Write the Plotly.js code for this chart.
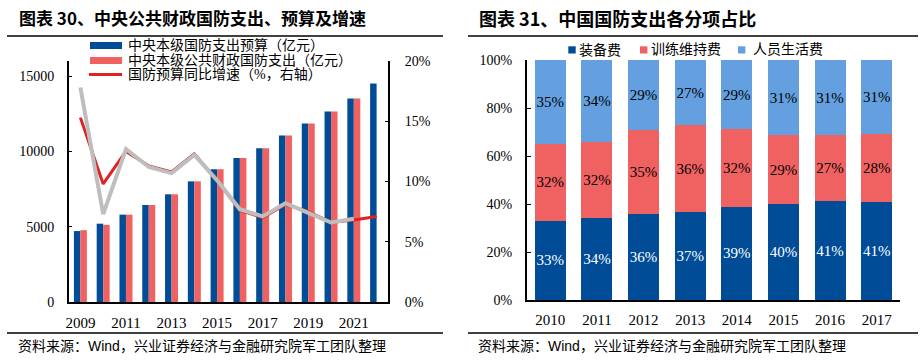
<!DOCTYPE html>
<html><head><meta charset="utf-8">
<script src="https://cdn.plot.ly/plotly-3.0.1.min.js"></script>
<style>
html,body{margin:0;padding:0;background:#fff;}
#wrap{position:relative;width:922px;height:361px;overflow:hidden;}
#c1{position:absolute;left:0;top:0;width:461px;height:361px;}
#c2{position:absolute;left:461px;top:0;width:461px;height:361px;}
</style></head><body>
<div id="wrap"><div id="c1"></div><div id="c2"></div></div>
<script>
// ---------- Data: chart 1 ----------
const years = [2009,2010,2011,2012,2013,2014,2015,2016,2017,2018,2019,2020,2021,2022];
const xTickYears = [2009,2011,2013,2015,2017,2019,2021];
const budget = [4710,5200,5800,6440,7150,8010,8810,9560,10200,11060,11850,12650,13510,14500];
const spending = [4770,5120,5800,6440,7150,8010,8810,9560,10200,11060,11850,12650,13510,null];
const budgetGrowth = [15.3,9.8,12.5,11.3,10.8,12.3,10.1,7.6,7.0,8.1,7.5,6.6,6.8,7.1];
const spendingGrowth = [17.8,7.3,12.7,11.2,10.7,12.2,10.1,7.7,7.1,8.2,7.4,6.6,6.9,null];
const names1 = ['中央本级国防支出预算（亿元）','中央本级公共财政国防支出（亿元）','国防预算同比增速（%，右轴）'];
const title1 = '图表 30、中央公共财政国防支出、预算及增速';
const yTicks1 = [0,5000,10000,15000];
const yTickText1 = ['0','5000','10000','15000'];
const yTicks1r = [0,5,10,15,20];
const yTickText1r = ['0%','5%','10%','15%','20%'];

// ---------- Data: chart 2 ----------
const years2 = ['2010','2011','2012','2013','2014','2015','2016','2017'];
const equipment = [33.0,34.2,35.8,36.6,38.8,40.0,41.2,40.8];
const training  = [32.0,31.6,35.0,36.2,32.3,28.6,27.4,28.4];
const personnel = [35.0,34.2,29.2,27.2,28.9,31.4,31.4,30.8];
const names2 = ['装备费','训练维持费','人员生活费'];
const title2 = '图表 31、中国国防支出各分项占比';
const yTicks2 = [0,20,40,60,80,100];
const yTickText2 = ['0%','20%','40%','60%','80%','100%'];
const sourceText = '资料来源：Wind，兴业证券经济与金融研究院军工团队整理';

const BLUE = '#004C97', SALMON = '#F06262', LIGHT = '#64A0E0', RED = '#E02222', GRAY = '#BEBEBE';
const SERIF = 'Liberation Serif, Noto Sans CJK SC, serif';
const CJK = 'Noto Sans CJK SC, sans-serif';
const SRC = 'Liberation Sans, Noto Sans CJK SC, sans-serif';

// ---------- Chart 1 ----------
(function(){
  const W=461,H=361,m={l:69,r:73,t:61,b:59};
  const pw=W-m.l-m.r, ph=H-m.t-m.b;
  const fx=p=>(p-m.l)/pw, fy=p=>(H-m.b-p)/ph;
  const traces=[
    {type:'bar',x:years,y:budget,name:names1[0],marker:{color:BLUE},showlegend:false,hoverinfo:'skip'},
    {type:'bar',x:years,y:spending,name:names1[1],marker:{color:SALMON},showlegend:false,hoverinfo:'skip'},
    {type:'scatter',mode:'lines',x:years,y:budgetGrowth,yaxis:'y2',name:names1[2],line:{color:RED,width:3},showlegend:false,hoverinfo:'skip'},
    {type:'scatter',mode:'lines',x:years,y:spendingGrowth,yaxis:'y2',name:'',line:{color:GRAY,width:4},showlegend:false,hoverinfo:'skip'}
  ];
  const shapes=[
    {type:'line',xref:'paper',yref:'paper',x0:fx(7),x1:fx(443),y0:fy(36),y1:fy(36),line:{color:'#000',width:1.5}},
    {type:'line',xref:'paper',yref:'paper',x0:fx(7),x1:fx(443),y0:fy(333),y1:fy(333),line:{color:'#000',width:1.5}},
    {type:'rect',xref:'paper',yref:'paper',x0:fx(90),x1:fx(122),y0:fy(49),y1:fy(42),fillcolor:BLUE,line:{width:0}},
    {type:'rect',xref:'paper',yref:'paper',x0:fx(90),x1:fx(122),y0:fy(64),y1:fy(57),fillcolor:SALMON,line:{width:0}},
    {type:'line',xref:'paper',yref:'paper',x0:fx(89),x1:fx(122),y0:fy(74.5),y1:fy(74.5),line:{color:RED,width:3}}
  ];
  const ann=(x,y,text,font)=>({xref:'paper',yref:'paper',x:fx(x),y:fy(y),xanchor:'left',yanchor:'middle',showarrow:false,text:text,font:font});
  const annotations=[
    ann(17,18,'<b>'+title1+'</b>',{family:CJK,size:17,color:'#000'}),
    ann(126,45,names1[0],{family:SERIF,size:14,color:'#000'}),
    ann(126,60,names1[1],{family:SERIF,size:14,color:'#000'}),
    ann(126,74.5,names1[2],{family:SERIF,size:14,color:'#000'}),
    ann(16,346,sourceText,{family:SRC,size:14,color:'#000'})
  ];
  const layout={
    width:W,height:H,margin:m,paper_bgcolor:'#fff',plot_bgcolor:'#fff',
    barmode:'group',bargap:0.43,bargroupgap:0,showlegend:false,
    xaxis:{range:[2008.5,2022.5],tickmode:'array',tickvals:xTickYears,ticktext:xTickYears.map(String),ticks:'',showline:true,linecolor:'#000',linewidth:2,showgrid:false,zeroline:false,
      tickfont:{family:SERIF,size:15,color:'#000'},ticklabelstandoff:6},
    yaxis:{range:[0,16000],tickmode:'array',tickvals:yTicks1,ticktext:yTickText1,ticks:'inside',ticklen:3,tickcolor:'#000',showline:true,linecolor:'#000',linewidth:2,showgrid:false,zeroline:false,
      tickfont:{family:SERIF,size:14,color:'#000'},ticklabelstandoff:10},
    yaxis2:{overlaying:'y',side:'right',range:[0,20],tickmode:'array',tickvals:yTicks1r,ticktext:yTickText1r,ticks:'inside',ticklen:3,tickcolor:'#000',showline:true,linecolor:'#000',linewidth:2,showgrid:false,zeroline:false,
      tickfont:{family:SERIF,size:14,color:'#000'},ticklabelstandoff:12},
    shapes:shapes,annotations:annotations
  };
  Plotly.newPlot('c1',traces,layout,{staticPlot:true,displayModeBar:false});
})();

// ---------- Chart 2 ----------
(function(){
  const W=461,H=361,m={l:66,r:22,t:60,b:61},OFF=461;
  const pw=W-m.l-m.r, ph=H-m.t-m.b;
  const gx=p=>(p-OFF-m.l)/pw, gy=p=>(H-m.b-p)/ph;
  const base={type:'bar',texttemplate:'%{y:.0f}%',textposition:'inside',insidetextanchor:'middle',textangle:0,constraintext:'none',showlegend:false,hoverinfo:'skip'};
  const traces=[
    Object.assign({},base,{x:years2,y:equipment,name:names2[0],marker:{color:BLUE},textfont:{family:SERIF,size:15,color:'#fff'}}),
    Object.assign({},base,{x:years2,y:training,name:names2[1],marker:{color:SALMON},textfont:{family:SERIF,size:15,color:'#000'}}),
    Object.assign({},base,{x:years2,y:personnel,name:names2[2],marker:{color:LIGHT},textfont:{family:SERIF,size:15,color:'#000'}})
  ];
  const sq=(x0,c)=>({type:'rect',xref:'paper',yref:'paper',x0:gx(x0),x1:gx(x0+7.4),y0:gy(53.5),y1:gy(46.3),fillcolor:c,line:{width:0}});
  const shapes=[
    {type:'line',xref:'paper',yref:'paper',x0:gx(468),x1:gx(918),y0:gy(36),y1:gy(36),line:{color:'#000',width:1.5}},
    {type:'line',xref:'paper',yref:'paper',x0:gx(468),x1:gx(918),y0:gy(333),y1:gy(333),line:{color:'#000',width:1.5}},
    sq(568.3,BLUE),sq(640,SALMON),sq(738,LIGHT)
  ];
  const ann=(x,y,text,font)=>({xref:'paper',yref:'paper',x:gx(x),y:gy(y),xanchor:'left',yanchor:'middle',showarrow:false,text:text,font:font});
  const annotations=[
    ann(477,18,'<b>'+title2+'</b>',{family:CJK,size:18,color:'#000'}),
    ann(577,50,names2[0],{family:SERIF,size:14,color:'#000'}),
    ann(649,50,names2[1],{family:SERIF,size:14,color:'#000'}),
    ann(751,50,names2[2],{family:SERIF,size:14,color:'#000'}),
    ann(476,346,sourceText,{family:SRC,size:14,color:'#000'})
  ];
  const layout={
    width:W,height:H,margin:m,paper_bgcolor:'#fff',plot_bgcolor:'#fff',
    barmode:'stack',bargap:0.335,showlegend:false,
    xaxis:{type:'category',ticks:'',showline:true,linecolor:'#000',linewidth:2,showgrid:false,zeroline:false,
      tickfont:{family:SERIF,size:15,color:'#000'},ticklabelstandoff:5},
    yaxis:{range:[0,100],tickmode:'array',tickvals:yTicks2,ticktext:yTickText2,ticks:'inside',ticklen:4,tickcolor:'#000',showline:true,linecolor:'#000',linewidth:2,showgrid:false,zeroline:false,
      tickfont:{family:SERIF,size:14,color:'#000'},ticklabelstandoff:10},
    shapes:shapes,annotations:annotations
  };
  Plotly.newPlot('c2',traces,layout,{staticPlot:true,displayModeBar:false});
})();
</script>
</body></html>
